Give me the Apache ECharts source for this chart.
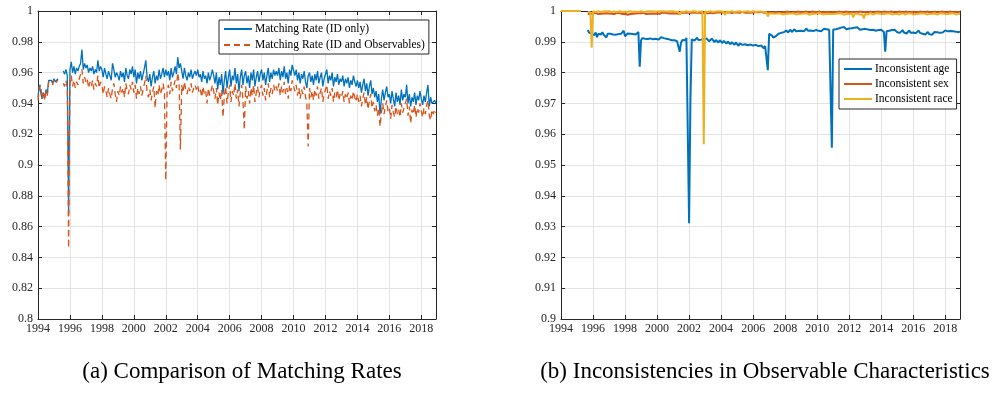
<!DOCTYPE html>
<html>
<head>
<meta charset="utf-8">
<title>Matching rates</title>
<script src="https://cdn.jsdelivr.net/npm/echarts@6/dist/echarts.min.js"></script>
<style>
    html, body { margin: 0; padding: 0; background: #fff; }
    #chart { width: 997px; height: 395px; }
</style>
</head>
<body>
<div id="chart"></div>
<script>
// monthly observations, Jan 1994 .. Dec 2018 (one row per year)
const startYear = 1994;
const yearTicks = [1994, 1996, 1998, 2000, 2002, 2004, 2006, 2008, 2010, 2012, 2014, 2016, 2018];

const rateIdOnly = [
    0.944, 0.952, 0.953, 0.943, 0.947, 0.943, 0.949, 0.946, 0.955, 0.956, 0.955, 0.953,
    0.956, 0.954, 0.955, 0.956, null, null, null, 0.961, 0.959, 0.962, 0.958, 0.869,
    0.962, 0.967, 0.960, 0.964, 0.959, 0.963, 0.961, 0.964, 0.966, 0.975, 0.962, 0.966,
    0.963, 0.965, 0.960, 0.963, 0.961, 0.964, 0.959, 0.962, 0.960, 0.968, 0.961, 0.964,
    0.962, 0.957, 0.963, 0.959, 0.956, 0.961, 0.958, 0.955, 0.966, 0.962, 0.957, 0.960,
    0.958, 0.955, 0.961, 0.957, 0.960, 0.954, 0.963, 0.958, 0.956, 0.962, 0.959, 0.964,
    0.957, 0.962, 0.953, 0.960, 0.956, 0.961, 0.955, 0.959, 0.963, 0.968, 0.957, 0.954,
    0.959, 0.951, 0.957, 0.961, 0.953, 0.958, 0.955, 0.962, 0.956, 0.959, 0.963, 0.957,
    0.962, 0.958, 0.961, 0.955, 0.963, 0.957, 0.960, 0.964, 0.959, 0.970, 0.963, 0.966,
    0.961, 0.956, 0.963, 0.958, 0.955, 0.960, 0.957, 0.962, 0.956, 0.959, 0.961, 0.958,
    0.962, 0.957, 0.959, 0.954, 0.961, 0.956, 0.958, 0.953, 0.960, 0.955, 0.958, 0.962,
    0.958, 0.953, 0.960, 0.949, 0.957, 0.952, 0.959, 0.946, 0.955, 0.961, 0.950, 0.957,
    0.962, 0.951, 0.958, 0.955, 0.963, 0.953, 0.959, 0.948, 0.957, 0.962, 0.952, 0.958,
    0.961, 0.953, 0.958, 0.950, 0.960, 0.955, 0.962, 0.951, 0.957, 0.961, 0.954, 0.959,
    0.962, 0.955, 0.960, 0.952, 0.958, 0.963, 0.954, 0.960, 0.956, 0.962, 0.958, 0.961,
    0.958, 0.963, 0.955, 0.961, 0.957, 0.964, 0.956, 0.960, 0.953, 0.962, 0.958, 0.965,
    0.966, 0.958, 0.962, 0.955, 0.960, 0.953, 0.959, 0.956, 0.961, 0.954, 0.950, 0.958,
    0.960, 0.954, 0.958, 0.952, 0.959, 0.955, 0.961, 0.953, 0.957, 0.960, 0.951, 0.956,
    0.957, 0.962, 0.953, 0.958, 0.955, 0.960, 0.951, 0.957, 0.954, 0.959, 0.952, 0.956,
    0.954, 0.958, 0.951, 0.956, 0.953, 0.957, 0.950, 0.955, 0.952, 0.958, 0.954, 0.951,
    0.955, 0.950, 0.954, 0.947, 0.952, 0.956, 0.948, 0.953, 0.945, 0.951, 0.955, 0.946,
    0.950, 0.944, 0.948, 0.941, 0.946, 0.933, 0.943, 0.949, 0.942, 0.947, 0.951, 0.944,
    0.946, 0.940, 0.948, 0.943, 0.938, 0.947, 0.941, 0.945, 0.939, 0.949, 0.942, 0.946,
    0.944, 0.952, 0.940, 0.946, 0.938, 0.944, 0.941, 0.947, 0.939, 0.945, 0.942, 0.948,
    0.943, 0.939, 0.945, 0.941, 0.947, 0.952, 0.938, 0.944, 0.940, 0.939, 0.942, 0.940
];

const rateIdObs = [
    0.942, 0.950, 0.952, 0.943, 0.948, 0.942, 0.948, 0.945, 0.954, 0.955, 0.954, 0.952,
    0.955, 0.953, 0.954, 0.955, null, null, null, 0.953, 0.951, 0.955, 0.950, 0.846,
    0.953, 0.958, 0.951, 0.955, 0.950, 0.954, 0.952, 0.956, 0.957, 0.962, 0.953, 0.957,
    0.954, 0.956, 0.950, 0.954, 0.951, 0.955, 0.949, 0.953, 0.951, 0.958, 0.950, 0.954,
    0.952, 0.946, 0.951, 0.948, 0.944, 0.950, 0.946, 0.943, 0.950, 0.953, 0.946, 0.941,
    0.948, 0.945, 0.951, 0.947, 0.950, 0.944, 0.953, 0.948, 0.946, 0.952, 0.949, 0.954,
    0.947, 0.952, 0.943, 0.950, 0.946, 0.951, 0.945, 0.949, 0.953, 0.958, 0.947, 0.944,
    0.949, 0.942, 0.947, 0.951, 0.937, 0.948, 0.945, 0.952, 0.946, 0.949, 0.953, 0.947,
    0.890, 0.948, 0.952, 0.946, 0.954, 0.948, 0.951, 0.955, 0.950, 0.960, 0.953, 0.910,
    0.952, 0.947, 0.954, 0.949, 0.946, 0.951, 0.948, 0.953, 0.947, 0.950, 0.952, 0.949,
    0.952, 0.947, 0.949, 0.944, 0.951, 0.946, 0.948, 0.940, 0.950, 0.945, 0.948, 0.952,
    0.948, 0.943, 0.950, 0.939, 0.947, 0.942, 0.949, 0.931, 0.945, 0.951, 0.940, 0.947,
    0.952, 0.941, 0.948, 0.945, 0.953, 0.943, 0.949, 0.938, 0.947, 0.952, 0.942, 0.923,
    0.951, 0.943, 0.948, 0.940, 0.950, 0.945, 0.952, 0.941, 0.947, 0.951, 0.944, 0.949,
    0.952, 0.945, 0.950, 0.942, 0.948, 0.953, 0.944, 0.950, 0.946, 0.952, 0.948, 0.951,
    0.948, 0.953, 0.945, 0.951, 0.947, 0.954, 0.946, 0.950, 0.943, 0.952, 0.948, 0.955,
    0.956, 0.948, 0.952, 0.945, 0.950, 0.943, 0.949, 0.946, 0.951, 0.944, 0.940, 0.912,
    0.950, 0.944, 0.948, 0.942, 0.949, 0.945, 0.951, 0.943, 0.947, 0.950, 0.941, 0.946,
    0.947, 0.952, 0.943, 0.948, 0.945, 0.950, 0.941, 0.947, 0.944, 0.949, 0.942, 0.946,
    0.944, 0.948, 0.941, 0.946, 0.943, 0.947, 0.940, 0.945, 0.942, 0.948, 0.944, 0.941,
    0.946, 0.941, 0.945, 0.938, 0.943, 0.947, 0.939, 0.944, 0.936, 0.942, 0.946, 0.937,
    0.941, 0.935, 0.939, 0.932, 0.937, 0.925, 0.934, 0.940, 0.933, 0.938, 0.942, 0.935,
    0.937, 0.930, 0.939, 0.934, 0.931, 0.938, 0.933, 0.936, 0.931, 0.940, 0.934, 0.937,
    0.936, 0.943, 0.932, 0.938, 0.927, 0.936, 0.933, 0.939, 0.931, 0.937, 0.934, 0.940,
    0.935, 0.931, 0.937, 0.933, 0.939, 0.942, 0.932, 0.929, 0.936, 0.933, 0.936, 0.934
];

const consAge = [
    null, null, null, null, null, null, null, null, null, null, null, null,
    null, null, null, null, null, null, null, null, 0.9938, 0.9930, 0.9932, 0.9926,
    0.9928, 0.9922, 0.9930, 0.9915, 0.9926, 0.9929, 0.9924, 0.9931, 0.9923, 0.9927, 0.9914, 0.9926,
    0.9921, 0.9926, 0.9929, 0.9924, 0.9927, 0.9923, 0.9928, 0.9925, 0.9930, 0.9926, 0.9932, 0.9936,
    0.9918, 0.9924, 0.9927, 0.9922, 0.9926, 0.9929, 0.9925, 0.9931, 0.9924, 0.9928, 0.9932, 0.9819,
    0.9905, 0.9912, 0.9916, 0.9910, 0.9914, 0.9909, 0.9913, 0.9911, 0.9915, 0.9908, 0.9912, 0.9910,
    0.9913, 0.9907, 0.9911, 0.9915, 0.9909, 0.9912, 0.9906, 0.9910, 0.9914, 0.9908, 0.9911, 0.9905,
    0.9910, 0.9905, 0.9908, 0.9902, 0.9896, 0.9868, 0.9898, 0.9906, 0.9910, 0.9905, 0.9912, 0.9914,
    0.9311, 0.9711, 0.9908, 0.9912, 0.9904, 0.9909, 0.9913, 0.9906, 0.9910, 0.9907, 0.9903, 0.9909,
    0.9905, 0.9911, 0.9908, 0.9902, 0.9907, 0.9910, 0.9904, 0.9899, 0.9906, 0.9903, 0.9898, 0.9905,
    0.9900, 0.9896, 0.9903, 0.9898, 0.9894, 0.9901, 0.9897, 0.9892, 0.9899, 0.9895, 0.9890, 0.9898,
    0.9893, 0.9887, 0.9895, 0.9899, 0.9890, 0.9884, 0.9892, 0.9897, 0.9889, 0.9883, 0.9891, 0.9896,
    0.9888, 0.9882, 0.9890, 0.9894, 0.9886, 0.9880, 0.9888, 0.9884, 0.9879, 0.9886, 0.9881, 0.9808,
    0.9926, 0.9929, 0.9921, 0.9914, 0.9912, 0.9918, 0.9922, 0.9926, 0.9924, 0.9929, 0.9927, 0.9931,
    0.9933, 0.9937, 0.9930, 0.9935, 0.9939, 0.9932, 0.9936, 0.9941, 0.9934, 0.9938, 0.9935, 0.9940,
    0.9936, 0.9941, 0.9934, 0.9939, 0.9943, 0.9936, 0.9940, 0.9937, 0.9942, 0.9935, 0.9939, 0.9938,
    0.9941, 0.9936, 0.9940, 0.9934, 0.9938, 0.9942, 0.9937, 0.9941, 0.9935, 0.9939, 0.9943, 0.9556,
    0.9940, 0.9945, 0.9941, 0.9947, 0.9943, 0.9940, 0.9946, 0.9942, 0.9948, 0.9944, 0.9941, 0.9946,
    0.9943, 0.9948, 0.9944, 0.9940, 0.9946, 0.9942, 0.9947, 0.9943, 0.9939, 0.9945, 0.9941, 0.9946,
    0.9942, 0.9946, 0.9940, 0.9944, 0.9938, 0.9943, 0.9939, 0.9945, 0.9936, 0.9930, 0.9938, 0.9942,
    0.9939, 0.9935, 0.9932, 0.9868, 0.9934, 0.9931, 0.9936, 0.9932, 0.9938, 0.9934, 0.9939, 0.9935,
    0.9931, 0.9936, 0.9929, 0.9934, 0.9938, 0.9930, 0.9935, 0.9927, 0.9933, 0.9937, 0.9929, 0.9934,
    0.9930, 0.9935, 0.9928, 0.9933, 0.9937, 0.9929, 0.9934, 0.9926, 0.9931, 0.9924, 0.9928, 0.9932,
    0.9925, 0.9929, 0.9923, 0.9928, 0.9932, 0.9927, 0.9931, 0.9934, 0.9929, 0.9933, 0.9930, 0.9935,
    0.9937, 0.9940, 0.9934, 0.9938, 0.9935, 0.9930, 0.9934, 0.9929, 0.9933, 0.9936, 0.9931, 0.9934
];

const consSex = [
    1, 1, 1, 1, 1, 1, 1, 1, 1, 1, 1, 1,
    1, 1, 1, 1, null, null, null, null, 0.9991, 0.9993, 0.9990, 0.9992,
    0.9993, 0.9991, 0.9994, 0.9992, 0.9990, 0.9993, 0.9991, 0.9994, 0.9992, 0.9990, 0.9993, 0.9991,
    0.9992, 0.9994, 0.9991, 0.9993, 0.9990, 0.9992, 0.9994, 0.9991, 0.9993, 0.9992, 0.9990, 0.9993,
    0.9991, 0.9993, 0.9988, 0.9992, 0.9990, 0.9993, 0.9991, 0.9994, 0.9992, 0.9990, 0.9993, 0.9991,
    0.9993, 0.9991, 0.9994, 0.9992, 0.9990, 0.9993, 0.9991, 0.9994, 0.9992, 0.9993, 0.9991, 0.9994,
    0.9992, 0.9994, 0.9991, 0.9993, 0.9995, 0.9992, 0.9994, 0.9991, 0.9993, 0.9995, 0.9992, 0.9994,
    0.9993, 0.9995, 0.9992, 0.9994, 0.9991, 0.9993, 0.9995, 0.9992, 0.9994, 0.9993, 0.9995, 0.9992,
    0.9994, 0.9992, 0.9995, 0.9993, 0.9994, 0.9992, 0.9995, 0.9993, 0.9994, 0.9996, 0.9993, 0.9995,
    0.9994, 0.9996, 0.9993, 0.9995, 0.9994, 0.9996, 0.9993, 0.9995, 0.9994, 0.9996, 0.9995, 0.9993,
    0.9995, 0.9994, 0.9996, 0.9993, 0.9995, 0.9994, 0.9996, 0.9995, 0.9993, 0.9995, 0.9996, 0.9994,
    0.9995, 0.9996, 0.9994, 0.9995, 0.9997, 0.9995, 0.9994, 0.9996, 0.9995, 0.9997, 0.9994, 0.9996,
    0.9995, 0.9997, 0.9996, 0.9994, 0.9996, 0.9995, 0.9997, 0.9996, 0.9994, 0.9996, 0.9995, 0.9993,
    0.9996, 0.9997, 0.9995, 0.9997, 0.9996, 0.9998, 0.9996, 0.9997, 0.9995, 0.9997, 0.9996, 0.9998,
    0.9997, 0.9996, 0.9998, 0.9997, 0.9995, 0.9997, 0.9996, 0.9998, 0.9997, 0.9996, 0.9998, 0.9997,
    0.9996, 0.9998, 0.9997, 0.9996, 0.9998, 0.9997, 0.9995, 0.9997, 0.9998, 0.9996, 0.9997, 0.9998,
    0.9997, 0.9996, 0.9998, 0.9997, 0.9996, 0.9998, 0.9997, 0.9995, 0.9997, 0.9998, 0.9996, 0.9994,
    0.9997, 0.9998, 0.9996, 0.9997, 0.9998, 0.9996, 0.9997, 0.9998, 0.9997, 0.9996, 0.9998, 0.9997,
    0.9996, 0.9998, 0.9997, 0.9995, 0.9997, 0.9998, 0.9996, 0.9997, 0.9998, 0.9996, 0.9997, 0.9995,
    0.9997, 0.9998, 0.9996, 0.9997, 0.9998, 0.9997, 0.9996, 0.9998, 0.9997, 0.9996, 0.9998, 0.9997,
    0.9996, 0.9997, 0.9998, 0.9996, 0.9997, 0.9998, 0.9997, 0.9996, 0.9998, 0.9997, 0.9996, 0.9998,
    0.9997, 0.9996, 0.9998, 0.9997, 0.9995, 0.9997, 0.9998, 0.9996, 0.9997, 0.9998, 0.9996, 0.9997,
    0.9998, 0.9997, 0.9996, 0.9998, 0.9997, 0.9996, 0.9998, 0.9997, 0.9995, 0.9997, 0.9998, 0.9996,
    0.9997, 0.9998, 0.9996, 0.9997, 0.9998, 0.9997, 0.9996, 0.9998, 0.9997, 0.9996, 0.9998, 0.9997,
    0.9996, 0.9998, 0.9997, 0.9996, 0.9998, 0.9997, 0.9996, 0.9998, 0.9997, 0.9996, 0.9997, 0.9998
];

const consRace = [
    1, 1, 1, 1, 1, 1, 1, 1, 1, 1, 1, 1,
    1, 1, 1, 1, null, null, null, null, 0.9997, 0.9998, 0.9996, 0.9881,
    0.9998, 0.9999, 0.9997, 0.9998, 0.9999, 0.9998, 0.9997, 0.9999, 0.9998, 0.9997, 0.9999, 0.9998,
    0.9999, 0.9998, 0.9997, 0.9999, 0.9998, 0.9999, 0.9997, 0.9998, 0.9999, 0.9998, 0.9997, 0.9999,
    0.9998, 0.9999, 0.9997, 0.9998, 0.9999, 0.9998, 0.9997, 0.9999, 0.9998, 0.9999, 0.9997, 0.9998,
    0.9999, 0.9998, 0.9997, 0.9999, 0.9998, 0.9997, 0.9999, 0.9998, 0.9999, 0.9997, 0.9998, 0.9999,
    0.9998, 0.9997, 0.9999, 0.9998, 0.9999, 0.9997, 0.9998, 0.9999, 0.9998, 0.9997, 0.9999, 0.9998,
    0.9999, 0.9998, 0.9997, 0.9999, 0.9998, 0.9987, 0.9998, 0.9999, 0.9997, 0.9998, 0.9999, 0.9998,
    0.9997, 0.9999, 0.9998, 0.9997, 0.9999, 0.9998, 0.9997, 0.9999, 0.9998, 0.9997, 0.9998, 0.9567,
    0.9998, 0.9999, 0.9997, 0.9998, 0.9999, 0.9998, 0.9997, 0.9999, 0.9998, 0.9997, 0.9999, 0.9998,
    0.9999, 0.9998, 0.9997, 0.9987, 0.9998, 0.9999, 0.9997, 0.9998, 0.9999, 0.9998, 0.9997, 0.9999,
    0.9998, 0.9997, 0.9999, 0.9998, 0.9997, 0.9999, 0.9998, 0.9997, 0.9999, 0.9998, 0.9997, 0.9998,
    0.9999, 0.9998, 0.9997, 0.9999, 0.9998, 0.9997, 0.9998, 0.9999, 0.9997, 0.9998, 0.9996, 0.9982,
    0.9992, 0.9990, 0.9993, 0.9989, 0.9991, 0.9988, 0.9992, 0.9990, 0.9993, 0.9991, 0.9989, 0.9992,
    0.9990, 0.9993, 0.9991, 0.9988, 0.9992, 0.9990, 0.9993, 0.9991, 0.9989, 0.9992, 0.9990, 0.9993,
    0.9991, 0.9989, 0.9992, 0.9990, 0.9993, 0.9991, 0.9988, 0.9992, 0.9990, 0.9993, 0.9991, 0.9989,
    0.9992, 0.9990, 0.9993, 0.9991, 0.9989, 0.9992, 0.9990, 0.9988, 0.9991, 0.9993, 0.9990, 0.9992,
    0.9990, 0.9993, 0.9991, 0.9989, 0.9992, 0.9990, 0.9993, 0.9991, 0.9988, 0.9992, 0.9990, 0.9993,
    0.9991, 0.9989, 0.9992, 0.9979, 0.9991, 0.9989, 0.9992, 0.9990, 0.9988, 0.9991, 0.9989, 0.9976,
    0.9990, 0.9992, 0.9989, 0.9991, 0.9993, 0.9990, 0.9988, 0.9991, 0.9993, 0.9990, 0.9992, 0.9989,
    0.9991, 0.9993, 0.9990, 0.9988, 0.9992, 0.9990, 0.9993, 0.9991, 0.9989, 0.9992, 0.9990, 0.9993,
    0.9990, 0.9992, 0.9989, 0.9991, 0.9993, 0.9990, 0.9988, 0.9991, 0.9992, 0.9990, 0.9993, 0.9991,
    0.9989, 0.9992, 0.9990, 0.9993, 0.9991, 0.9988, 0.9992, 0.9990, 0.9993, 0.9991, 0.9989, 0.9992,
    0.9990, 0.9993, 0.9991, 0.9989, 0.9992, 0.9990, 0.9988, 0.9991, 0.9993, 0.9990, 0.9992, 0.9989,
    0.9991, 0.9993, 0.9990, 0.9988, 0.9992, 0.9990, 0.9993, 0.9991, 0.9989, 0.9992, 0.9990, 0.9991
];

const names = [
    "Matching Rate (ID only)",
    "Matching Rate (ID and Observables)",
    "Inconsistent age",
    "Inconsistent sex",
    "Inconsistent race"
];
const colors = ["#0072bd", "#d95319", "#edb120"];
const axisColor = "#262626";
const gridColor = "#e3e3e3";
const fontFamily = "Liberation Serif";

// pair each value with its decimal-year position
function toPoints(values) {
    return values.map((v, i) => [startYear + i / 12, v]);
}

function xAxisFor(gridIndex, top) {
    return {
        type: "value",
        gridIndex: gridIndex,
        position: top ? "top" : "bottom",
        min: 1994,
        max: 2018.92,
        interval: 2,
        axisLine: { show: true, onZero: false, lineStyle: { color: axisColor, width: 1 } },
        axisTick: { show: true, inside: true, length: 4, lineStyle: { color: axisColor } },
        axisLabel: {
            show: !top,
            color: axisColor,
            fontFamily: fontFamily,
            fontSize: 12,
            margin: 4,
            formatter: (v) => (yearTicks.indexOf(Math.round(v * 1000) / 1000) >= 0 ? String(v) : "")
        },
        splitLine: { show: !top, lineStyle: { color: gridColor, width: 1 } }
    };
}

function yAxisFor(gridIndex, right, min, interval) {
    return {
        type: "value",
        gridIndex: gridIndex,
        position: right ? "right" : "left",
        min: min,
        max: 1,
        interval: interval,
        axisLine: { show: true, onZero: false, lineStyle: { color: axisColor, width: 1 } },
        axisTick: { show: true, inside: true, length: 4, lineStyle: { color: axisColor } },
        axisLabel: {
            show: !right,
            color: axisColor,
            fontFamily: fontFamily,
            fontSize: 12,
            margin: 5
        },
        splitLine: { show: !right, lineStyle: { color: gridColor, width: 1 } }
    };
}

function lineSeries(name, values, color, width, xi, yi, dashed) {
    return {
        name: name,
        type: "line",
        xAxisIndex: xi,
        yAxisIndex: yi,
        data: toPoints(values),
        showSymbol: false,
        symbol: "none",
        connectNulls: false,
        lineStyle: { color: color, width: width, type: dashed ? [6, 4] : "solid" },
        itemStyle: { color: color },
        emphasis: { disabled: true }
    };
}

// line sample only: the marker in the middle is made transparent
const legendBase = {
    orient: "vertical",
    backgroundColor: "#fff",
    borderColor: axisColor,
    borderWidth: 1,
    borderRadius: 0,
    itemWidth: 28,
    itemHeight: 10,
    align: "left",
    selectedMode: false,
    itemStyle: { color: "rgba(0,0,0,0)", borderColor: "rgba(0,0,0,0)", borderWidth: 0 },
    textStyle: { color: "#000", fontFamily: fontFamily, fontSize: 11.5, padding: [0, 0, 0, -2] }
};

const captionFont = "23px 'Liberation Serif'";

const option = {
    animation: false,
    backgroundColor: "#fff",
    grid: [
        { left: 38, top: 11, width: 398, height: 308 },
        { left: 561, top: 11, width: 399, height: 308 }
    ],
    xAxis: [xAxisFor(0, false), xAxisFor(0, true), xAxisFor(1, false), xAxisFor(1, true)],
    yAxis: [
        yAxisFor(0, false, 0.8, 0.02),
        yAxisFor(0, true, 0.8, 0.02),
        yAxisFor(1, false, 0.9, 0.01),
        yAxisFor(1, true, 0.9, 0.01)
    ],
    legend: [
        Object.assign({}, legendBase, {
            data: [names[0], names[1]],
            left: 219,
            top: 20,
            padding: [3, 4],
            itemGap: 4
        }),
        Object.assign({}, legendBase, {
            data: [names[2], names[3], names[4]],
            left: 839,
            top: 59,
            padding: [4, 4],
            itemGap: 3
        })
    ],
    graphic: [
        {
            type: "text",
            x: 242,
            y: 372,
            style: {
                text: "(a) Comparison of Matching Rates",
                fill: "#000",
                font: captionFont,
                textAlign: "center",
                textVerticalAlign: "middle"
            }
        },
        {
            type: "text",
            x: 765,
            y: 372,
            style: {
                text: "(b) Inconsistencies in Observable Characteristics",
                fill: "#000",
                font: captionFont,
                textAlign: "center",
                textVerticalAlign: "middle"
            }
        }
    ],
    series: [
        lineSeries(names[0], rateIdOnly, colors[0], 1.3, 0, 0, false),
        lineSeries(names[1], rateIdObs, colors[1], 1.3, 0, 0, true),
        lineSeries(names[2], consAge, colors[0], 2, 2, 2, false),
        lineSeries(names[3], consSex, colors[1], 2, 2, 2, false),
        lineSeries(names[4], consRace, colors[2], 2, 2, 2, false)
    ]
};

const chart = echarts.init(document.getElementById("chart"));
chart.setOption(option);
</script>
</body>
</html>
